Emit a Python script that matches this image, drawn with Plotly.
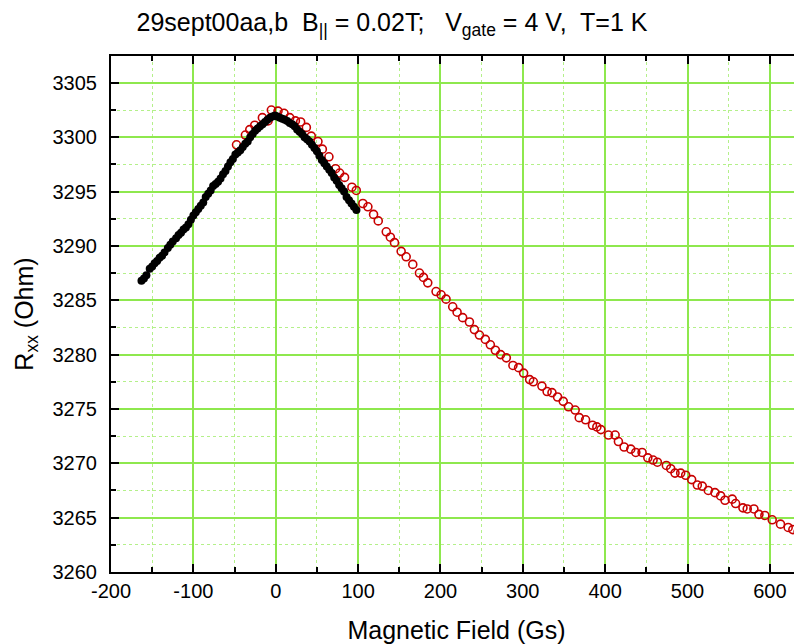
import plotly.graph_objects as go

# ---- data ----
black_x = [-163, -160, -157, -153, -150, -147, -144, -141, -138, -135, -131, -128, -125, -121,
           -118, -115, -112, -109, -106, -103, -100, -97, -94, -91, -88, -85, -82, -79, -76,
           -73, -70, -67, -64, -61, -58, -55, -52, -49, -46, -43, -40, -37, -34, -31, -28,
           -25, -22, -19, -16, -13, -10, -7, -4, -1, 2, 5, 8, 11, 14, 17, 20, 23, 26, 29, 32,
           35, 38, 41, 44, 47, 50, 53, 56, 59, 62, 65, 68, 71, 74, 77, 80, 83, 86, 89, 92, 95, 98]
black_y = [3286.8, 3287.0, 3287.3, 3287.9, 3288.1, 3288.4, 3288.6, 3288.9, 3289.1, 3289.4,
           3289.8, 3290.1, 3290.4, 3290.7, 3291.0, 3291.2, 3291.5, 3291.7, 3292.0, 3292.4,
           3292.8, 3293.1, 3293.4, 3293.7, 3294.0, 3294.5, 3294.8, 3295.1, 3295.5, 3295.7,
           3295.9, 3296.2, 3296.6, 3296.9, 3297.3, 3297.7, 3298.0, 3298.4, 3298.6, 3298.8,
           3299.1, 3299.4, 3299.6, 3300.0, 3300.3, 3300.6, 3300.8, 3301.0, 3301.2, 3301.4,
           3301.6, 3301.8, 3301.9, 3302.0, 3301.9, 3301.8, 3301.7, 3301.6, 3301.5, 3301.3,
           3301.2, 3301.0, 3300.7, 3300.5, 3300.3, 3300.0, 3299.8, 3299.6, 3299.3, 3299.0,
           3298.7, 3298.3, 3297.9, 3297.6, 3297.3, 3297.0, 3296.7, 3296.3, 3296.0, 3295.6,
           3295.3, 3295.0, 3294.5, 3294.2, 3293.9, 3293.6, 3293.3]

red_x = [-47.6, -36.8, -31.5, -25.5, -16.2, -9.3, -5.3, 2.8, 10.1, 17.0, 23.9, 30.3, 37.2,
         43.2, 51.3, 56.6, 64.6, 72.7, 77.6, 83.6, 92.5, 97.8, 105.8, 111.9, 118.8, 124.5,
         134.2, 139.2, 144.2, 152.3, 158.4, 166.4, 174.5, 179.4, 184.6, 194.7, 200.8, 206.8,
         214.9, 220.2, 227.0, 235.2, 241.2, 247.3, 254.5, 260.6, 266.7, 273.0, 280.0, 288.0,
         294.9, 301.0, 308.3, 312.8, 323.2, 329.5, 335.4, 342.2, 349.1, 355.5, 363.6, 368.5,
         376.2, 384.6, 389.9, 394.8, 404.0, 412.1, 416.1, 423.0, 431.1, 437.2, 444.8, 451.8,
         458.2, 463.4, 474.3, 479.6, 484.8, 491.7, 497.8, 505.0, 511.9, 517.9, 525.2, 533.3,
         540.2, 545.5, 554.3, 558.4, 567.3, 572.5, 580.6, 586.7, 593.9, 602.8, 612.9, 622.2,
         627.9, 634.3, 641.0]
red_y = [3299.3, 3300.2, 3300.7, 3301.1, 3301.8, 3301.5, 3302.5, 3302.4, 3302.2, 3301.8,
         3301.5, 3301.4, 3300.9, 3300.1, 3299.6, 3298.9, 3298.2, 3297.1, 3296.7, 3296.3,
         3295.4, 3295.1, 3293.9, 3293.6, 3292.9, 3292.3, 3291.3, 3290.8, 3290.3, 3289.5,
         3289.0, 3288.3, 3287.5, 3287.1, 3286.6, 3285.8, 3285.5, 3285.1, 3284.4, 3283.9,
         3283.4, 3283.0, 3282.3, 3281.8, 3281.4, 3280.9, 3280.4, 3280.0, 3279.7, 3279.0,
         3278.8, 3278.3, 3277.7, 3277.5, 3277.1, 3276.6, 3276.5, 3276.1, 3275.7, 3275.2,
         3274.9, 3274.2, 3274.0, 3273.5, 3273.35, 3273.1, 3272.6, 3272.6, 3272.0, 3271.5,
         3271.3, 3271.0, 3271.0, 3270.5, 3270.3, 3270.1, 3269.8, 3269.5, 3269.1, 3269.1,
         3268.9, 3268.5, 3268.0, 3267.9, 3267.5, 3267.3, 3267.0, 3266.6, 3266.7, 3266.3,
         3265.9, 3265.8, 3265.8, 3265.3, 3265.2, 3264.8, 3264.4, 3264.1, 3263.9, 3263.7,
         3263.4]

x_tickvals = [-200, -100, 0, 100, 200, 300, 400, 500, 600]
x_ticktext = ["-200", "-100", "0", "100", "200", "300", "400", "500", "600"]
y_tickvals = [3260, 3265, 3270, 3275, 3280, 3285, 3290, 3295, 3300, 3305]
y_ticktext = ["3260", "3265", "3270", "3275", "3280", "3285", "3290", "3295", "3300", "3305"]

title_text = ("29sept00aa,b\u00a0 B<sub>||</sub> = 0.02T;\u00a0\u00a0 V<sub>gate</sub> = 4 V,"
              "\u00a0 T=1 K")
x_title = "Magnetic Field (Gs)"
y_title = "R<sub>xx</sub> (Ohm)"

FONT = "Liberation Sans, Arial, sans-serif"
MAJOR_GRID = "#8ee84e"
MINOR_GRID = "#b4f08a"

# the page body adds an 8px offset, so the figure is drawn 8px smaller
W, H = 794, 636

fig = go.Figure()
fig.add_trace(go.Scatter(
    x=red_x, y=red_y, mode="markers", name="b",
    marker=dict(symbol="circle-open", size=8, color="#c80000", line=dict(width=1.6)),
))
fig.add_trace(go.Scatter(
    x=black_x, y=black_y, mode="markers", name="a",
    marker=dict(symbol="circle", size=8, color="black", line=dict(width=0)),
))

fig.update_layout(
    width=W, height=H,
    margin=dict(l=103, r=0, t=48, b=72),
    paper_bgcolor="white", plot_bgcolor="white",
    showlegend=False,
    font=dict(family=FONT, color="black"),
    title=dict(text=title_text, x=384 / W, xref="container", xanchor="center",
               y=1 - 14 / H, yref="container", yanchor="middle",
               font=dict(size=25, family=FONT, color="black")),
)
fig.update_xaxes(
    range=[-200, 639], tickvals=x_tickvals, ticktext=x_ticktext,
    ticks="inside", ticklen=8, tickwidth=2,
    tickcolor="black", showline=True, linecolor="black", linewidth=2, mirror="allticks",
    showgrid=True, gridcolor=MAJOR_GRID, gridwidth=1.5, zeroline=False,
    tickfont=dict(size=20, family=FONT), automargin=False,
    title=dict(text=x_title, font=dict(size=25, family=FONT), standoff=20),
    minor=dict(dtick=50, tick0=-200, ticks="inside", ticklen=5, tickwidth=1.5,
               tickcolor="black", showgrid=True, gridcolor=MINOR_GRID, griddash="dot",
               gridwidth=1),
)
fig.update_yaxes(
    range=[3260, 3307.47], tickvals=y_tickvals, ticktext=y_ticktext,
    ticks="inside", ticklen=8, tickwidth=2, ticklabelstandoff=8,
    tickcolor="black", showline=True, linecolor="black", linewidth=2, mirror=False,
    showgrid=True, gridcolor=MAJOR_GRID, gridwidth=1.5, zeroline=False,
    tickfont=dict(size=20, family=FONT), automargin=False,
    title=dict(text=y_title, font=dict(size=25, family=FONT), standoff=12),
    minor=dict(dtick=2.5, tick0=3260, ticks="inside", ticklen=5, tickwidth=1.5,
               tickcolor="black", showgrid=True, gridcolor=MINOR_GRID, griddash="dot",
               gridwidth=1),
)

fig.write_html("out.html")
